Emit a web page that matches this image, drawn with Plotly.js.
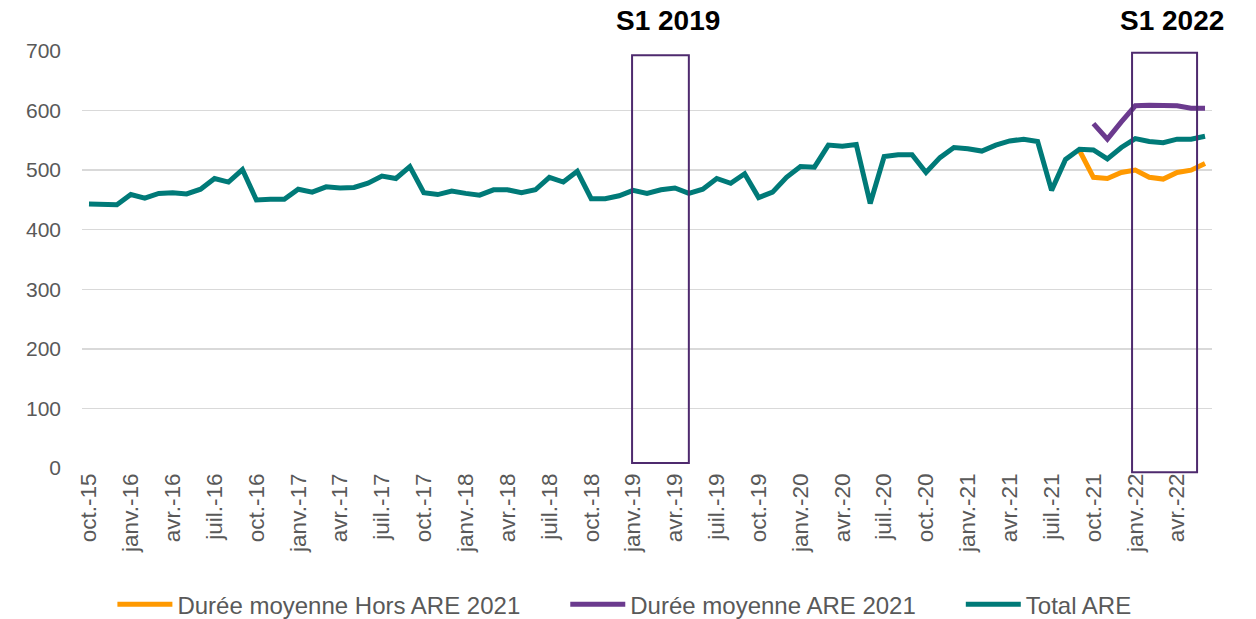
<!DOCTYPE html>
<html>
<head>
<meta charset="utf-8">
<script src="https://cdn.plot.ly/plotly-3.0.1.min.js"></script>
<style>html,body{margin:0;padding:0;background:#fff;}#chart{width:1256px;height:619px;}</style>
</head>
<body>
<div id="chart"></div>
<script>
const categories = [
  "oct.-15","nov.-15","déc.-15",
  "janv.-16","févr.-16","mars-16","avr.-16","mai-16","juin-16","juil.-16","août-16","sept.-16","oct.-16","nov.-16","déc.-16",
  "janv.-17","févr.-17","mars-17","avr.-17","mai-17","juin-17","juil.-17","août-17","sept.-17","oct.-17","nov.-17","déc.-17",
  "janv.-18","févr.-18","mars-18","avr.-18","mai-18","juin-18","juil.-18","août-18","sept.-18","oct.-18","nov.-18","déc.-18",
  "janv.-19","févr.-19","mars-19","avr.-19","mai-19","juin-19","juil.-19","août-19","sept.-19","oct.-19","nov.-19","déc.-19",
  "janv.-20","févr.-20","mars-20","avr.-20","mai-20","juin-20","juil.-20","août-20","sept.-20","oct.-20","nov.-20","déc.-20",
  "janv.-21","févr.-21","mars-21","avr.-21","mai-21","juin-21","juil.-21","août-21","sept.-21","oct.-21","nov.-21","déc.-21",
  "janv.-22","févr.-22","mars-22","avr.-22","mai-22","juin-22"
];

const tickLabels = [
  "oct.-15","janv.-16","avr.-16","juil.-16","oct.-16","janv.-17","avr.-17","juil.-17","oct.-17",
  "janv.-18","avr.-18","juil.-18","oct.-18","janv.-19","avr.-19","juil.-19","oct.-19",
  "janv.-20","avr.-20","juil.-20","oct.-20","janv.-21","avr.-21","juil.-21","oct.-21","janv.-22","avr.-22"
];

const seriesNames = ["Durée moyenne Hors ARE 2021", "Durée moyenne ARE 2021", "Total ARE"];

const totalARE = [
  443,442,442,
  459,453,461,462,460,468,486,480,501,450,451,451,
  468,463,472,470,471,478,490,486,506,462,459,465,
  461,458,467,467,462,467,488,480,498,452,452,457,
  466,461,467,470,461,468,486,478,494,454,463,488,
  506,505,542,540,543,444,523,526,526,496,521,538,
  536,532,542,549,552,548,466,518,535,534,519,538,
  553,548,546,552,552,557
];

const horsARE2021 = [
  null,null,null,
  null,null,null,null,null,null,null,null,null,null,null,null,
  null,null,null,null,null,null,null,null,null,null,null,null,
  null,null,null,null,null,null,null,null,null,null,null,null,
  null,null,null,null,null,null,null,null,null,null,null,null,
  null,null,null,null,null,null,null,null,null,null,null,null,
  null,null,null,null,null,null,null,null,533,488,486,496,
  500,488,485,496,500,511
];

const are2021 = [
  null,null,null,
  null,null,null,null,null,null,null,null,null,null,null,null,
  null,null,null,null,null,null,null,null,null,null,null,null,
  null,null,null,null,null,null,null,null,null,null,null,null,
  null,null,null,null,null,null,null,null,null,null,null,null,
  null,null,null,null,null,null,null,null,null,null,null,null,
  null,null,null,null,null,null,null,null,null,578,552,581,
  608,609,608,608,604,604
];

const yTicks = [0,100,200,300,400,500,600,700];
const periodLabels = ["S1 2019", "S1 2022"];

const FONT = "Liberation Sans, Arial, sans-serif";
const GREY = "#595959";
const PAD = "\u00a0".repeat(6);

const traces = [
  {x: categories, y: horsARE2021, name: seriesNames[0] + PAD, type: "scatter", mode: "lines",
   line: {color: "#FF9900", width: 5}, connectgaps: false},
  {x: categories, y: are2021, name: seriesNames[1] + PAD, type: "scatter", mode: "lines",
   line: {color: "#6B3A8E", width: 5}, connectgaps: false},
  {x: categories, y: totalARE, name: seriesNames[2], type: "scatter", mode: "lines",
   line: {color: "#007A78", width: 5}}
];

const boxLine = {color: "#4E2A6E", width: 2};

const layout = {
  width: 1256, height: 619,
  margin: {l: 82, r: 44, t: 51, b: 151},
  paper_bgcolor: "#fff", plot_bgcolor: "#fff",
  font: {family: FONT, color: GREY, size: 20},
  showlegend: true,
  legend: {orientation: "h", x: 0.48, xanchor: "center", yref: "container", y: 0.023, yanchor: "middle",
           font: {family: FONT, size: 24, color: GREY}, itemwidth: 55, traceorder: "normal"},
  xaxis: {type: "category", categoryorder: "array", categoryarray: categories,
          tickmode: "array", tickvals: tickLabels, ticktext: tickLabels,
          tickangle: -90, tickfont: {family: FONT, size: 22.5, color: GREY},
          showgrid: false, zeroline: false, showline: false, ticks: "",
          range: [-0.5, categories.length - 0.5], fixedrange: true, automargin: false},
  yaxis: {range: [0, 700], tickmode: "array", tickvals: yTicks,
          tickfont: {family: FONT, size: 21, color: GREY}, ticklabelstandoff: 20,
          showgrid: true, gridcolor: "#D9D9D9", gridwidth: 1.5,
          zeroline: false, showline: false, ticks: "", ticklen: 0, fixedrange: true, automargin: false},
  shapes: [
    {type: "rect", xref: "x", yref: "paper", x0: 38.93, x1: 43.0, y0: 0.012, y1: 0.99, line: boxLine, fillcolor: "rgba(0,0,0,0)"},
    {type: "rect", xref: "x", yref: "paper", x0: 74.77, x1: 79.43, y0: -0.01, y1: 0.996, line: boxLine, fillcolor: "rgba(0,0,0,0)"}
  ],
  annotations: [
    {text: "<b>" + periodLabels[0] + "</b>", xref: "x", yref: "paper", x: 41.5, y: 1.072, showarrow: false,
     font: {family: FONT, size: 28, color: "#000"}, xanchor: "center", yanchor: "middle"},
    {text: "<b>" + periodLabels[1] + "</b>", xref: "x", yref: "paper", x: 77.6, y: 1.072, showarrow: false,
     font: {family: FONT, size: 28, color: "#000"}, xanchor: "center", yanchor: "middle"}
  ]
};

Plotly.newPlot("chart", traces, layout, {displayModeBar: false, staticPlot: true});
</script>
</body>
</html>
